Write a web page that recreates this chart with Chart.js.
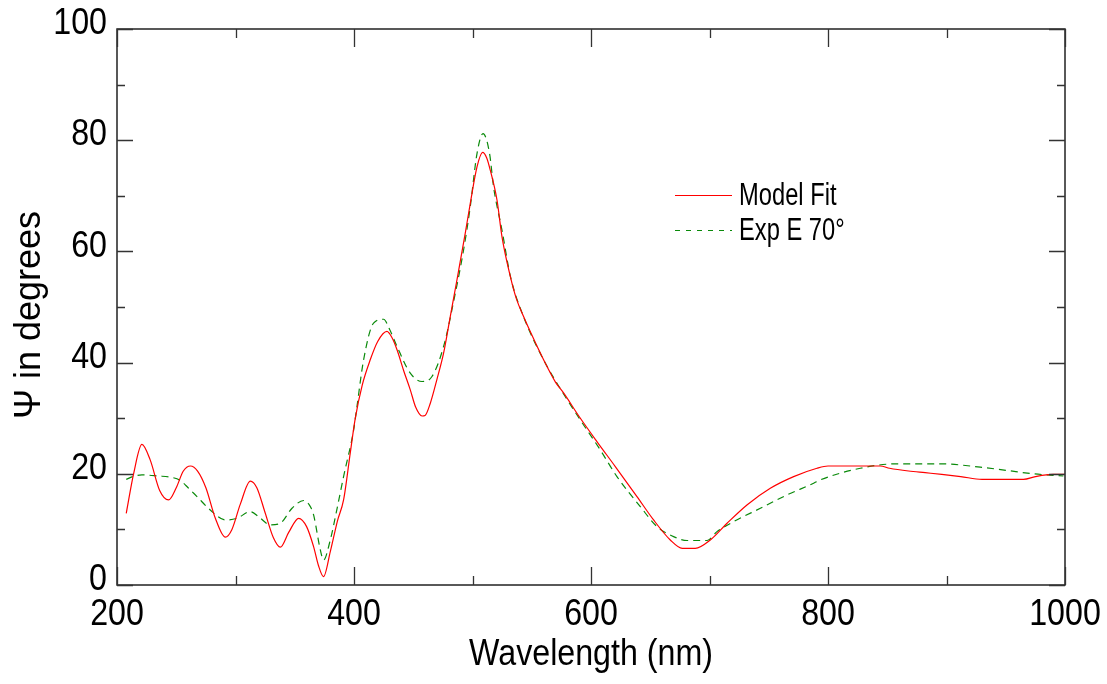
<!DOCTYPE html>
<html>
<head>
<meta charset="utf-8">
<title>Psi vs wavelength</title>
<script src="https://cdn.jsdelivr.net/npm/chart.js@4.4.1/dist/chart.umd.min.js"></script>
<style>
  html, body { margin: 0; padding: 0; background: #fff; }
  #wrap { width: 1107px; height: 684px; position: relative; }
</style>
</head>
<body>
<div id="wrap"><canvas id="chart" width="1107" height="684"></canvas></div>
<script>
// Model fit: wavelength (nm) and Psi (degrees)
const fitWavelength = [207.8, 214, 221, 228, 236, 243.5, 250, 256, 262, 268, 275, 283, 291.4, 297, 304, 312.5,
  318, 325, 332, 337.8, 345, 353.3, 360, 365.9, 370, 374.3, 380, 386, 391.2, 397, 401.1, 407, 413.7, 420,
  427.8, 432, 436.3, 442, 447.5, 452, 457.4, 460, 464.4, 470, 475.6, 481, 486.9, 493.9, 498.1, 503.8, 508.5,
  512, 515, 520.7, 524.9, 531.9, 537, 543.1, 550, 560, 570, 577, 590, 605, 620.5, 638.8, 652.8, 666.9, 677,
  688, 700.7, 714.8, 731.6, 751.3, 771, 790.7, 800, 844, 852, 868, 882, 896, 912, 930, 965, 975, 990, 1000];
const fitPsi = [12.9, 20, 25.3, 22.5, 17, 15.3, 17.5, 20.5, 21.4, 20.5, 17.5, 12, 8.6, 10, 14.5, 18.7,
  17.5, 13, 8.5, 6.8, 9.5, 12.0, 10.5, 6.9, 3.5, 1.5, 6, 11.5, 15.3, 24, 30.0, 36, 40.5, 43.8,
  45.6, 44.5, 42.3, 38.5, 35.1, 32, 30.4, 30.5, 32.7, 37, 41.7, 48, 54.9, 63.3, 68.6, 75.2, 77.8,
  76.8, 74.6, 69.2, 62.6, 55.5, 51.5, 48.3, 45, 40.5, 36.5, 34.5, 30.3, 25.8, 21.3, 15.9, 11.7, 8.1, 6.6,
  6.6, 8.1, 11.1, 14.4, 17.4, 19.5, 21.0, 21.4, 21.4, 21.0, 20.5, 20.2, 19.9, 19.5, 19.0, 19.0, 19.5, 19.9, 19.9];

// Measured data, 70 degree incidence
const expWavelength = [207.8, 215, 221, 235, 245, 253.4, 260, 267.5, 278.7, 291.4, 301.3, 312.5, 320, 329.4,
  337.8, 347.7, 357.5, 362, 365.9, 371.6, 374.3, 380, 385, 391.2, 399.7, 402.5, 408.1, 416.5, 425, 430,
  436.3, 447.5, 457.4, 465.8, 475.6, 485.5, 492.5, 498.1, 503.8, 508.9, 514.4, 517.8, 524.9, 532, 543, 560,
  575, 590, 607.8, 621.9, 641.6, 655.7, 669.7, 681, 698, 706.3, 720.4, 742.9, 765.4, 787.9, 793.5, 827.3,
  858.2, 894.8, 928.5, 951, 973.5, 998.6];
const expPsi = [19.0, 19.6, 19.8, 19.6, 19.4, 18.8, 17.5, 15.9, 13.5, 11.7, 12.0, 13.2, 12.2, 10.8,
  11.1, 13.8, 15.2, 14.5, 12.6, 6.3, 4.5, 8.1, 13, 19.5, 27.9, 32.1, 40.5, 47.1, 47.8, 46,
  42.9, 38.1, 36.6, 37.5, 42.9, 52.5, 60.3, 68.0, 77.6, 81.2, 77.6, 71.6, 63.8, 55.5, 48.3, 40.5,
  35, 30, 24.3, 19.5, 14.1, 10.5, 8.7, 8.0, 8.0, 9.6, 11.4, 13.8, 16.2, 18.3, 18.9, 21.0,
  21.8, 21.8, 21.2, 20.6, 20.0, 19.6];

const seriesLabels = ['Model Fit', 'Exp E 70\u00b0'];
const xTicks = [200, 400, 600, 800, 1000];
const yTicks = [0, 20, 40, 60, 80, 100];
const xMinorTicks = [300, 500, 700, 900];
const yMinorTicks = [10, 30, 50, 70, 90];
const xTitle = 'Wavelength (nm)';
const yTitle = '\u03a8 in degrees';

const FONT = "'Liberation Sans', Arial, Helvetica, sans-serif";
// horizontal squeeze applied to the condensed text
const TICK_SQUEEZE = 0.87;
const LEGEND_SQUEEZE = 0.765;

const toPoints = (xs, ys) => xs.map((x, i) => ({ x: x, y: ys[i] }));

// draw text squeezed horizontally about its anchor point
function squeezedText(ctx, text, x, y, sx) {
  ctx.save();
  ctx.translate(x, y);
  ctx.scale(sx, 1);
  ctx.fillText(text, 0, 0);
  ctx.restore();
}

// Condensed tick labels, frame, inward tick marks, axis titles and legend
const framePlugin = {
  id: 'frame',
  beforeDraw(chart) {
    const ctx = chart.ctx;
    const orig = ctx.fillText;
    this._orig = orig;
    ctx.fillText = function (text, x, y) {
      this.save();
      this.translate(x, y);
      this.scale(TICK_SQUEEZE, 1);
      orig.call(this, text, 0, 0);
      this.restore();
    };
  },
  afterDraw(chart) {
    const { ctx, chartArea: a, scales } = chart;
    if (this._orig) { ctx.fillText = this._orig; delete ctx.fillText; }
    const xs = scales.x, ys = scales.y;
    ctx.save();
    ctx.strokeStyle = '#222';
    ctx.lineWidth = 1.5;
    ctx.strokeRect(a.left, a.top, a.right - a.left, a.bottom - a.top);

    ctx.beginPath();
    const vTick = (vals, len) => vals.forEach(v => {
      const px = Math.round(xs.getPixelForValue(v)) + 0.5;
      ctx.moveTo(px, a.bottom); ctx.lineTo(px, a.bottom - len);
      ctx.moveTo(px, a.top); ctx.lineTo(px, a.top + len);
    });
    const hTick = (vals, len) => vals.forEach(v => {
      const py = Math.round(ys.getPixelForValue(v)) + 0.5;
      ctx.moveTo(a.left, py); ctx.lineTo(a.left + len, py);
      ctx.moveTo(a.right, py); ctx.lineTo(a.right - len, py);
    });
    vTick(xTicks, 18); vTick(xMinorTicks, 9);
    hTick(yTicks, 16); hTick(yMinorTicks, 8);
    ctx.lineWidth = 1.3;
    ctx.strokeStyle = '#333';
    ctx.stroke();

    // axis titles
    ctx.fillStyle = '#000';
    ctx.font = '37px ' + FONT;
    ctx.textAlign = 'center';
    ctx.textBaseline = 'alphabetic';
    squeezedText(ctx, xTitle, (a.left + a.right) / 2, a.bottom + 80, TICK_SQUEEZE);

    ctx.save();
    ctx.translate(a.left - 77, (a.top + a.bottom) / 2 + 8);
    ctx.rotate(-Math.PI / 2);
    ctx.font = '36px ' + FONT;
    ctx.fillText(yTitle, 0, 0);
    ctx.restore();

    // legend
    const lx = a.left + 558, tx = a.left + 622;
    const rows = [a.top + 166, a.top + 201];
    chart.data.datasets.forEach((ds, i) => {
      ctx.beginPath();
      ctx.strokeStyle = ds.borderColor;
      ctx.lineWidth = 1.2;
      ctx.setLineDash(i === 1 ? [5, 6] : []);
      ctx.moveTo(lx, rows[i] + 0.5);
      ctx.lineTo(lx + 57, rows[i] + 0.5);
      ctx.stroke();
      ctx.setLineDash([]);
      ctx.fillStyle = '#000';
      ctx.font = '31px ' + FONT;
      ctx.textAlign = 'left';
      ctx.textBaseline = 'middle';
      squeezedText(ctx, ds.label, tx, rows[i] + 1, LEGEND_SQUEEZE);
    });
    ctx.restore();
  }
};

const noPad = s => { s.paddingLeft = 0; s.paddingRight = 0; s.paddingTop = 0; s.paddingBottom = 0; };

new Chart(document.getElementById('chart'), {
  type: 'line',
  data: {
    datasets: [
      {
        label: seriesLabels[0],
        data: toPoints(fitWavelength, fitPsi),
        borderColor: '#ff0000',
        borderWidth: 1.2,
        pointRadius: 0,
        fill: false,
        cubicInterpolationMode: 'monotone'
      },
      {
        label: seriesLabels[1],
        data: toPoints(expWavelength, expPsi),
        borderColor: '#0a8a0a',
        borderWidth: 1.2,
        borderDash: [7, 5],
        pointRadius: 0,
        fill: false,
        cubicInterpolationMode: 'monotone'
      }
    ]
  },
  options: {
    responsive: false,
    animation: false,
    layout: { padding: { top: 29, right: 42, left: 0, bottom: 0 } },
    plugins: { legend: { display: false }, tooltip: { enabled: false } },
    scales: {
      x: {
        type: 'linear',
        min: 200, max: 1000,
        afterBuildTicks: s => { s.ticks = xTicks.map(v => ({ value: v })); },
        afterFit: s => { s.height = 99; noPad(s); },
        grid: { display: false, drawTicks: false },
        border: { display: false },
        ticks: {
          color: '#000', padding: 8, maxRotation: 0, autoSkip: false,
          callback: v => String(v),
          font: { family: FONT, size: 37 }
        }
      },
      y: {
        min: 0, max: 100,
        afterBuildTicks: s => { s.ticks = yTicks.map(v => ({ value: v })); },
        afterFit: s => { s.width = 117; noPad(s); },
        grid: { display: false, drawTicks: false },
        border: { display: false },
        ticks: {
          color: '#000', padding: 10, labelOffset: -5, autoSkip: false,
          callback: v => String(v),
          font: { family: FONT, size: 37 }
        }
      }
    }
  },
  plugins: [framePlugin]
});
</script>
</body>
</html>
